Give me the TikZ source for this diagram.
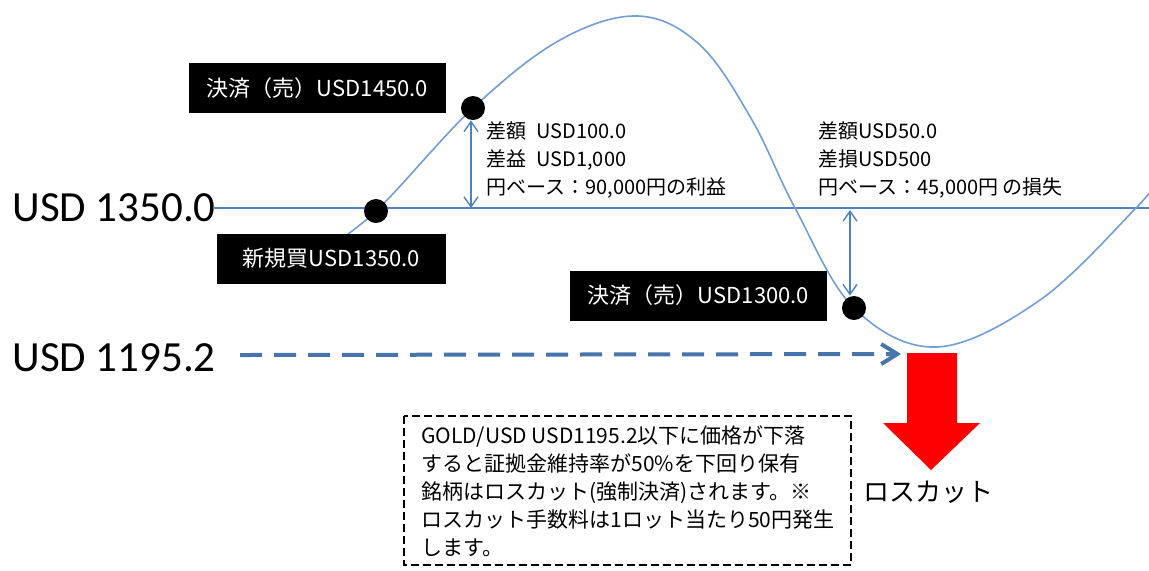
\documentclass[tikz,border=0pt]{standalone}
\usepackage{fontspec}
\setmainfont{Noto Sans CJK JP}
\newfontfamily\lblfont{Carlito}
\usetikzlibrary{arrows.meta}
\definecolor{lineblue}{RGB}{79,129,189}
\definecolor{curveblue}{RGB}{115,158,212}

\begin{document}
\begin{tikzpicture}[x=0.5pt, y=-0.5pt,
  blackbox/.style={fill=black, text=white, inner sep=0pt, minimum height=25pt, font=\fontsize{11}{13}\selectfont},
  pdot/.style={circle, fill=black, inner sep=0pt, minimum size=12pt},
  note/.style={anchor=west, align=left, inner sep=0pt, font=\fontsize{10}{14}\selectfont},
  price/.style={anchor=west, inner sep=0pt, font=\lblfont\fontsize{21.5}{24}\selectfont},
  gap/.style={draw=lineblue, line width=0.7pt, {Straight Barb[length=5pt,width=7pt]}-{Straight Barb[length=5pt,width=7pt]}}]

\useasboundingbox (0,0) rectangle (1149,570);

% price levels
\node[price] (p1350) at (12,208) {USD 1350.0};
\node[price] (p1195) at (12,358) {USD 1195.2};
\coordinate (lineL) at (213,208);
\coordinate (lineR) at (1149,208);
\draw[lineblue, line width=1.25pt] (lineL) -- (lineR);

% price curve
\draw[curveblue, line width=0.8pt] plot[smooth, tension=0.6] coordinates {
  (318,254) (376,211) (473,108) (560,40) (638,16) (700,45) (752,120)
  (795,208) (854,308) (937,347) (1040,300) (1135,209) (1160,178)};

% trade points
\node[blackbox, minimum width=128.5pt] (sellA) at (317.5,88) {決済（売）USD1450.0};
\node[blackbox, minimum width=114.5pt] (buy) at (331.5,258.5) {新規買USD1350.0};
\node[blackbox, minimum width=128.5pt] (sellB) at (698.5,295.5) {決済（売）USD1300.0};

\node[pdot] (dotBuy) at (376,211) {};
\node[pdot] (dotA) at (473,108) {};
\node[pdot] (dotB) at (854,308) {};

% differences
\coordinate (hitA) at (471,208);
\coordinate (hitB) at (850,210);
\draw[gap] (hitA |- dotA.south) -- (hitA);
\draw[gap] (hitB) -- (hitB |- dotB.north);
\node[note] (gainnote) at (486,160) {差額\enspace USD100.0\\差益\enspace USD1,000\\円ベース：90,000円の利益};
\node[note] (lossnote) at (818,160) {差額USD50.0\\差損USD500\\円ベース：45,000円 の損失};

% loss cut level
\coordinate (lcStart) at (240,355);
\coordinate (lcTip) at (901,354);
\draw[lineblue!90!black, line width=2pt, dash pattern=on 11pt off 6pt,
  -{Straight Barb[length=8pt,width=10pt]}] (lcStart) -- (lcTip);
\fill[red] (907,353) -- (957,353) -- (957,423) -- (980,423) -- (931,470)
  -- (883,423) -- (907,423) -- cycle;
\node[inner sep=0pt, font=\fontsize{13}{15}\selectfont] (lclabel) at (928,492) {ロスカット};

% explanation
\draw[line width=1.2pt, dash pattern=on 4pt off 2pt] (404,416) rectangle (851,565);
\node[anchor=north west, align=left, inner sep=0pt, font=\fontsize{10.5}{14}\selectfont] (expl) at (421,425)
  {GOLD/USD USD1195.2以下に価格が下落\\すると証拠金維持率が50\%を下回り保有\\銘柄はロスカット(強制決済)されます。※\\ロスカット手数料は1ロット当たり50円発生\\します。};
\end{tikzpicture}
\end{document}
